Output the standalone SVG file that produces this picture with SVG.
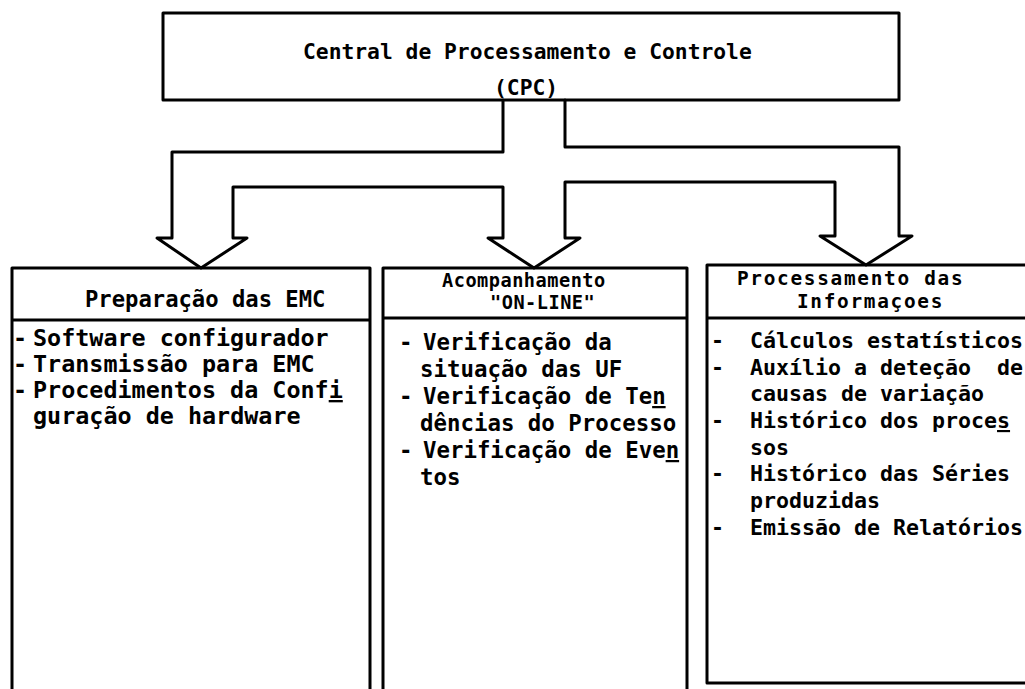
<svg xmlns="http://www.w3.org/2000/svg" width="1025" height="689" viewBox="0 0 1025 689">
<style>
.box{fill:none;stroke:#000;stroke-width:3;stroke-linejoin:round}
.ln{stroke:#000;stroke-width:3}
.conn{fill:none;stroke:#000;stroke-width:3;stroke-linejoin:round;stroke-linecap:round}
text{font-family:"DejaVu Sans Mono","Liberation Mono",monospace;font-weight:bold;fill:#000;white-space:pre}
.t0{font-size:21.3px}
.h1{font-size:22.2px}
.i1{font-size:23.4px}
.h2{font-size:18.6px;letter-spacing:0.5px}
.i2{font-size:22.4px}
.h3{font-size:19.4px;letter-spacing:1.7px}
.i3{font-size:21.6px}
.d1{letter-spacing:-4.1px}
.d2{letter-spacing:-1.5px}
.d3{letter-spacing:6.5px}
.u{text-decoration:underline}
</style>
<rect width="1025" height="689" fill="#fff"/>
<g id="connectors">
<path class="conn" d="M503,100 L503,152 L172,152 L172,238 L157,238 L201,268 L247,238 L233,238 L233,187 L503,187 L503,238 L488,238 L534,268 L580,238 L565,238 L565,182 L835,182 L835,236 L820,236 L866,265 L912,236 L899,236 L899,147 L565,147 L565,100"/>
</g>
<g id="cpc">
<rect class="box" x="163" y="13" width="736" height="87"/>
<text class="t0"><tspan x="303" y="59">Central de Processamento e Controle</tspan><tspan x="494" y="95">(CPC)</tspan></text>
</g>
<g id="preparacao">
<rect class="box" x="12" y="268" width="358" height="430"/>
<line class="ln" x1="12" y1="320" x2="370" y2="320"/>
<text class="h1" x="85" y="307">Preparação das EMC</text>
<text class="i1" x="13" y="346"><tspan class="d1">- </tspan>Software configurador</text>
<text class="i1" x="13" y="372"><tspan class="d1">- </tspan>Transmissão para EMC</text>
<text class="i1" x="13" y="398"><tspan class="d1">- </tspan>Procedimentos da Conf<tspan class="u">i</tspan></text>
<text class="i1" x="33" y="424">guração de hardware</text>
</g>
<g id="acompanhamento">
<rect class="box" x="383" y="268" width="304" height="430"/>
<line class="ln" x1="383" y1="318" x2="687" y2="318"/>
<text class="h2"><tspan x="442" y="287">Acompanhamento</tspan><tspan x="490" y="309">"ON-LINE"</tspan></text>
<text class="i2" x="399" y="350"><tspan class="d2">- </tspan>Verificação da</text>
<text class="i2" x="420" y="377">situação das UF</text>
<text class="i2" x="399" y="404"><tspan class="d2">- </tspan>Verificação de Te<tspan class="u">n</tspan></text>
<text class="i2" x="420" y="431">dências do Processo</text>
<text class="i2" x="399" y="458"><tspan class="d2">- </tspan>Verificação de Eve<tspan class="u">n</tspan></text>
<text class="i2" x="420" y="485">tos</text>
</g>
<g id="processamento">
<rect class="box" x="707" y="265" width="330" height="418"/>
<line class="ln" x1="707" y1="318" x2="1030" y2="318"/>
<text class="h3"><tspan x="737" y="285">Processamento das</tspan><tspan x="797" y="308">Informaçoes</tspan></text>
<text class="i3" x="711" y="348"><tspan class="d3">- </tspan>Cálculos estatísticos</text>
<text class="i3" x="711" y="375"><tspan class="d3">- </tspan>Auxílio a deteção  de</text>
<text class="i3" x="750" y="401">causas de variação</text>
<text class="i3" x="711" y="428"><tspan class="d3">- </tspan>Histórico dos proce<tspan class="u">s</tspan></text>
<text class="i3" x="750" y="455">sos</text>
<text class="i3" x="711" y="481"><tspan class="d3">- </tspan>Histórico das Séries</text>
<text class="i3" x="750" y="508">produzidas</text>
<text class="i3" x="711" y="535"><tspan class="d3">- </tspan>Emissão de Relatórios</text>
</g>
</svg>
